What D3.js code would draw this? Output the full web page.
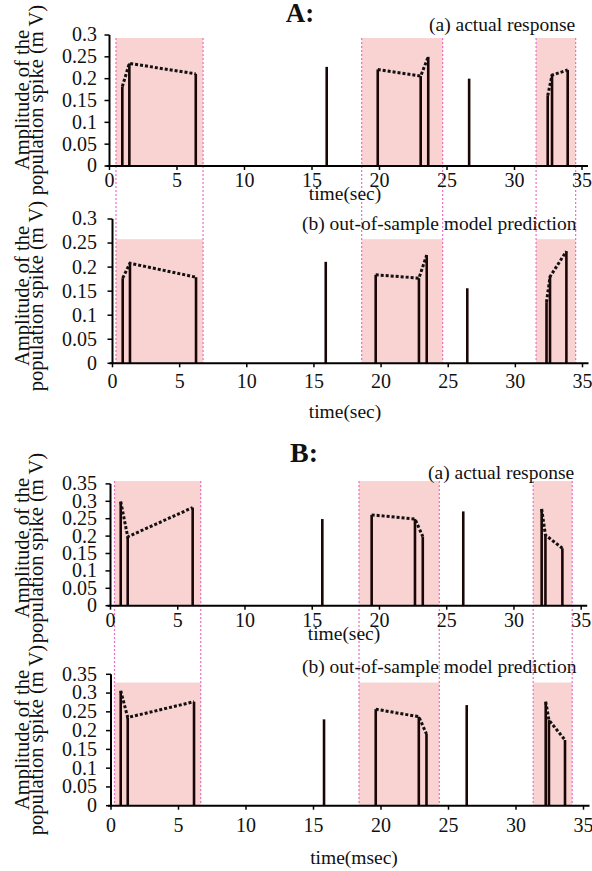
<!DOCTYPE html>
<html>
<head>
<meta charset="utf-8">
<script src="https://cdn.jsdelivr.net/npm/d3@7"></script>
<style>
  body { margin: 0; background: #fff; }
  text { font-family: "Liberation Serif", "Times New Roman", serif; fill: #111; }
</style>
</head>
<body>
<div id="chart"></div>
<script>
// spike times (sec) and amplitudes (mV)
var timeAa = [0.95, 1.47, 6.39, 16.09, 19.87, 23.05, 23.61, 26.64, 32.46, 32.78, 33.94];
var ampAa = [0.182, 0.235, 0.211, 0.227, 0.221, 0.206, 0.25, 0.2, 0.161, 0.208, 0.22];
var timeAb = [0.76, 1.3, 6.22, 15.88, 19.6, 22.82, 23.4, 26.42, 32.32, 32.58, 33.8];
var ampAb = [0.177, 0.208, 0.179, 0.211, 0.184, 0.177, 0.225, 0.156, 0.127, 0.18, 0.233];
var timeBa = [0.76, 1.28, 6.11, 15.75, 19.42, 22.64, 23.22, 26.23, 32.06, 32.34, 33.6];
var ampBa = [0.299, 0.198, 0.282, 0.249, 0.261, 0.249, 0.199, 0.271, 0.278, 0.203, 0.165];
var timeBb = [0.72, 1.24, 6.15, 15.78, 19.61, 22.8, 23.37, 26.35, 32.2, 32.44, 33.63];
var ampBb = [0.306, 0.235, 0.277, 0.23, 0.257, 0.237, 0.191, 0.268, 0.277, 0.228, 0.175];

// stimulation windows (shaded)
var regionsA = [[0.48, 6.93], [18.68, 24.68], [31.6, 34.53]];
var regionsB = [[0.3, 6.71], [18.48, 24.45], [31.43, 34.33]];
var shadeTop = { Aa: 0.293, Ab: 0.258, Ba: 0.358, Bb: 0.328 };

var xTicks = [0, 5, 10, 15, 20, 25, 30, 35];
var yTicksA = [0, 0.05, 0.1, 0.15, 0.2, 0.25, 0.3];
var yTicksB = [0, 0.05, 0.1, 0.15, 0.2, 0.25, 0.3, 0.35];

var width = 592, height = 871;

var svg = d3.select("#chart").append("svg")
  .attr("width", width).attr("height", height);

// panel layout (pixels)
var panels = [
  { key: "Aa", t: timeAa, a: ampAa, regions: regionsA, yMax: 0.3, yTicks: yTicksA,
    left: 109.5, right: 582, base: 166, top: 35, tickDy: 21, labY: 100,
    note: "(a) actual response", noteX: 429, noteY: 31,
    xlab: "time(sec)", xlabX: 345, xlabY: 200 },
  { key: "Ab", t: timeAb, a: ampAb, regions: regionsA, yMax: 0.3, yTicks: yTicksA,
    left: 112.5, right: 582.5, base: 363.3, top: 219, tickDy: 25, labY: 296,
    note: "(b) out-of-sample model prediction", noteX: 302, noteY: 230,
    xlab: "time(sec)", xlabX: 345, xlabY: 418 },
  { key: "Ba", t: timeBa, a: ampBa, regions: regionsB, yMax: 0.35, yTicks: yTicksB,
    left: 110.5, right: 581.2, base: 605.7, top: 483.9, tickDy: 21, labY: 548,
    note: "(a) actual response", noteX: 428, noteY: 479,
    xlab: "time(sec)", xlabX: 344, xlabY: 640 },
  { key: "Bb", t: timeBb, a: ampBb, regions: regionsB, yMax: 0.35, yTicks: yTicksB,
    left: 111, right: 583.5, base: 805.7, top: 674.3, tickDy: 26, labY: 740,
    note: "(b) out-of-sample model prediction", noteX: 302, noteY: 673,
    xlab: "time(msec)", xlabX: 354, xlabY: 864 }
];

panels.forEach(function (p) {
  p.x = d3.scaleLinear().domain([0, 35]).range([p.left, p.right]);
  p.y = d3.scaleLinear().domain([0, p.yMax]).range([p.base, p.top]);
});

// shading + pink dashed guides use the upper panel's x scale of each figure
function drawFigure(upper, lower) {
  var fx = upper.x;
  [upper, lower].forEach(function (p) {
    svg.append("g").selectAll("rect")
      .data(p.regions).enter().append("rect")
      .attr("x", function (d) { return fx(d[0]); })
      .attr("width", function (d) { return fx(d[1]) - fx(d[0]); })
      .attr("y", p.y(shadeTop[p.key]))
      .attr("height", p.base - p.y(shadeTop[p.key]))
      .attr("fill", "#f9d2d2");
  });
  var edges = [];
  upper.regions.forEach(function (r) { edges.push(r[0], r[1]); });
  svg.append("g").selectAll("line")
    .data(edges).enter().append("line")
    .attr("x1", function (d) { return fx(d); })
    .attr("x2", function (d) { return fx(d); })
    .attr("y1", upper.y(shadeTop[upper.key]))
    .attr("y2", lower.base)
    .attr("stroke", "#ec6fc0")
    .attr("stroke-width", 1.2)
    .attr("stroke-dasharray", "2,2");
}
drawFigure(panels[0], panels[1]);
drawFigure(panels[2], panels[3]);

panels.forEach(function (p) {
  var g = svg.append("g");

  // spikes
  var pts = p.t.map(function (t, i) { return { t: t, a: p.a[i] }; });
  g.selectAll(".spike").data(pts).enter().append("line")
    .attr("class", "spike")
    .attr("x1", function (d) { return p.x(d.t); })
    .attr("x2", function (d) { return p.x(d.t); })
    .attr("y1", p.base)
    .attr("y2", function (d) { return p.y(d.a); })
    .attr("stroke", "#1a0606")
    .attr("stroke-width", 2.6);

  // dotted line joining spikes inside each window
  var line = d3.line().x(function (d) { return p.x(d.t); }).y(function (d) { return p.y(d.a); });
  p.regions.forEach(function (r) {
    var grp = pts.filter(function (d) { return d.t >= r[0] && d.t <= r[1]; });
    g.append("path").attr("d", line(grp))
      .attr("fill", "none")
      .attr("stroke", "#111")
      .attr("stroke-width", 3)
      .attr("stroke-dasharray", "3,2");
  });

  // axes
  g.append("line")
    .attr("x1", p.left - 3).attr("x2", p.x(35) + 6)
    .attr("y1", p.base).attr("y2", p.base)
    .attr("stroke", "#000").attr("stroke-width", 2);
  g.append("line")
    .attr("x1", p.left).attr("x2", p.left)
    .attr("y1", p.base).attr("y2", p.y(p.yMax))
    .attr("stroke", "#000").attr("stroke-width", 2);

  g.selectAll(".yt").data(p.yTicks).enter().append("line")
    .attr("x1", p.left - 5).attr("x2", p.left)
    .attr("y1", function (d) { return p.y(d); })
    .attr("y2", function (d) { return p.y(d); })
    .attr("stroke", "#000").attr("stroke-width", 1.5);
  g.selectAll(".ytl").data(p.yTicks).enter().append("text")
    .attr("x", 97)
    .attr("y", function (d) { return p.y(d); })
    .attr("dy", "0.32em")
    .attr("text-anchor", "end")
    .style("font-size", "20px")
    .text(function (d) { return String(+d.toFixed(2)); });

  g.selectAll(".xt").data(xTicks).enter().append("line")
    .attr("x1", function (d) { return p.x(d); })
    .attr("x2", function (d) { return p.x(d); })
    .attr("y1", p.base).attr("y2", p.base + 4)
    .attr("stroke", "#000").attr("stroke-width", 1.5);
  g.selectAll(".xtl").data(xTicks).enter().append("text")
    .attr("x", function (d) { return p.x(d); })
    .attr("y", p.base + p.tickDy)
    .attr("text-anchor", "middle")
    .style("font-size", "20px")
    .text(function (d) { return d; });

  // labels
  g.append("text").attr("x", p.noteX).attr("y", p.noteY)
    .style("font-size", "19.5px").text(p.note);
  g.append("text").attr("x", p.xlabX).attr("y", p.xlabY)
    .attr("text-anchor", "middle")
    .style("font-size", "19.5px").text(p.xlab);

  g.append("text")
    .attr("transform", "translate(28.5," + p.labY + ") rotate(-90)")
    .attr("text-anchor", "middle")
    .style("font-size", "20.5px")
    .text("Amplitude of the");
  g.append("text")
    .attr("transform", "translate(43," + p.labY + ") rotate(-90)")
    .attr("text-anchor", "middle")
    .style("font-size", "20.5px")
    .text("population spike (m V)");
});

// figure titles
svg.append("text").attr("x", 300).attr("y", 22)
  .attr("text-anchor", "middle")
  .style("font-size", "27px").style("font-weight", "bold").text("A:");
svg.append("text").attr("x", 304).attr("y", 462)
  .attr("text-anchor", "middle")
  .style("font-size", "28px").style("font-weight", "bold").text("B:");
</script>
</body>
</html>
